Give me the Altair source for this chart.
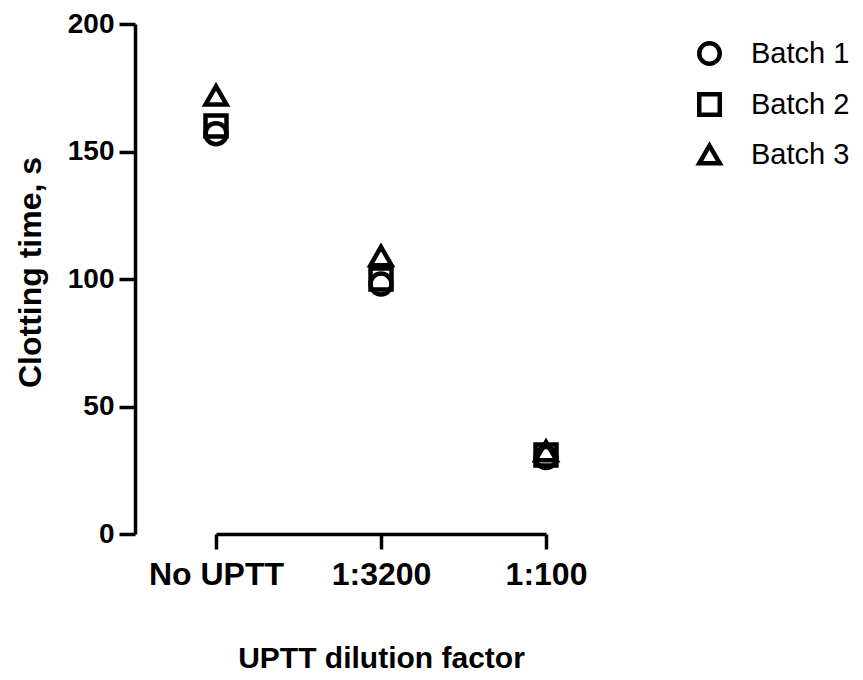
import altair as alt
import pandas as pd

categories = ["No UPTT", "1:3200", "1:100"]
batches = ["Batch 1", "Batch 2", "Batch 3"]
batch1 = [157, 98, 30]
batch2 = [160, 100, 31]
batch3 = [172, 109, 32.5]

rows = []
for b, vals in zip(batches, [batch1, batch2, batch3]):
    for c, v in zip(categories, vals):
        rows.append({"dilution": c, "batch": b, "time": v})
df = pd.DataFrame(rows)

FONT = "Liberation Sans"

chart = alt.Chart(df).mark_point(
    filled=False, strokeWidth=4.5, color="black", size=440, opacity=1
).encode(
    x=alt.X("dilution:N", sort=categories,
            scale=alt.Scale(type="point", domain=categories, range=[81, 411], padding=0),
            axis=alt.Axis(title="UPTT dilution factor", labelAngle=0, titlePadding=53,
                          labelPadding=10, tickSize=15, labelFontSize=32, titleFontSize=30)),
    y=alt.Y("time:Q", scale=alt.Scale(domain=[0, 200], nice=False),
            axis=alt.Axis(title="Clotting time, s", values=[0, 50, 100, 150, 200],
                          tickSize=16, labelPadding=5, titlePadding=20, labelFontSize=28,
                          titleFontSize=32, titleAngle=-90, titleY=248)),
    shape=alt.Shape("batch:N",
                    scale=alt.Scale(domain=batches, range=["circle", "square", "triangle-up"]),
                    legend=alt.Legend(title=None, orient="none", legendX=560, legendY=15,
                                      symbolSize=420, symbolStrokeWidth=4.5,
                                      symbolStrokeColor="black", symbolFillColor="transparent",
                                      labelFontSize=29, labelFont=FONT, labelFontWeight="normal",
                                      labelOffset=27, rowPadding=12, padding=0,
                                      symbolType="circle")),
    order=alt.Order("batch:N"),
).properties(
    width=513, height=510,
    autosize=alt.AutoSizeParams(type="none"),
    padding={"left": 127, "top": 16, "right": 207, "bottom": 138},
    background="white"
).configure_view(stroke=None).configure_axis(
    grid=False, domainColor="black", domainWidth=3.5, tickColor="black", tickWidth=3.5,
    labelColor="black", titleColor="black", labelFont=FONT, titleFont=FONT,
    labelFontWeight="bold", titleFontWeight="bold",
)

chart.save("out.html", embed_options={"renderer": "svg", "actions": False})
